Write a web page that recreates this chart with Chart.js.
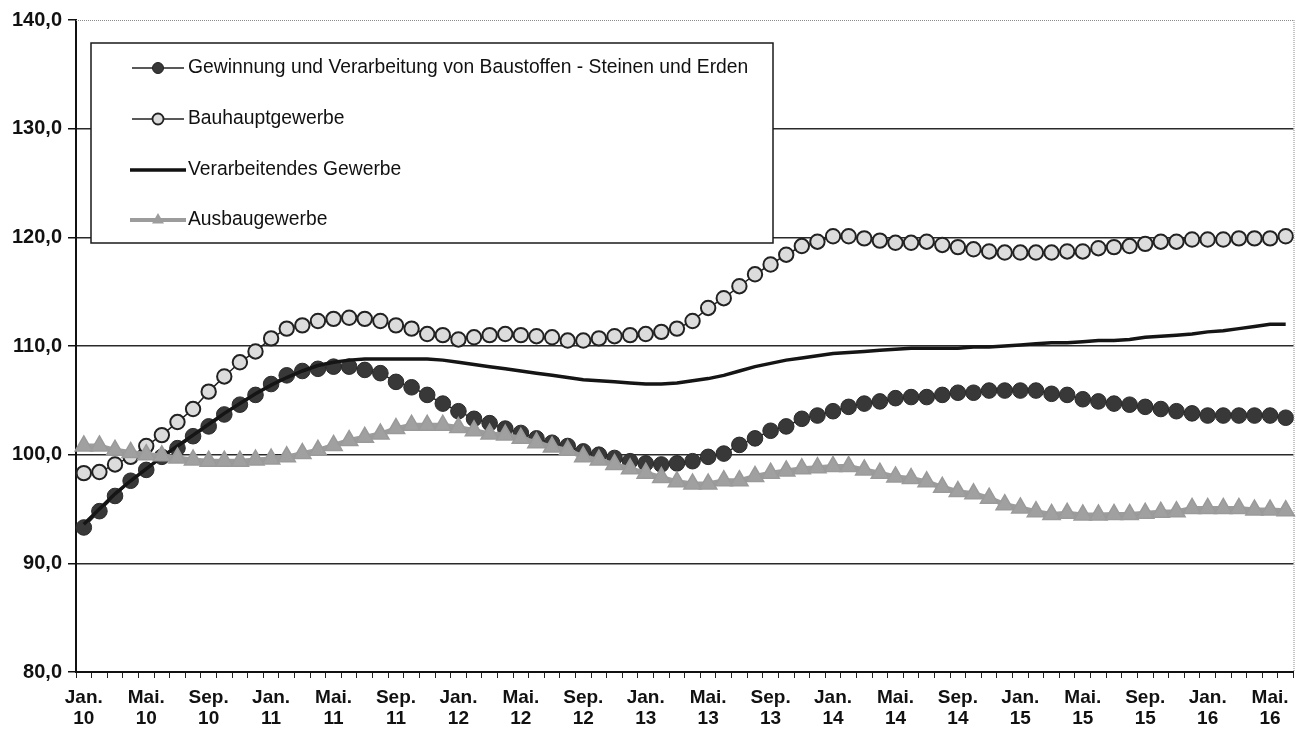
<!DOCTYPE html>
<html>
<head>
<meta charset="utf-8">
<script src="https://cdn.jsdelivr.net/npm/chart.js@4.4.1/dist/chart.umd.min.js"></script>
<style>
  html, body { margin: 0; padding: 0; background: #fff; }
  #wrap { width: 1305px; height: 734px; }
</style>
</head>
<body>
<div id="wrap"><canvas id="chart" width="1305" height="734"></canvas></div>
<script>
// month names / years used for the category axis (Jan. 10 .. Jun. 16)
var monthNames = ['Jan.', 'Feb.', 'Mär.', 'Apr.', 'Mai.', 'Jun.', 'Jul.', 'Aug.', 'Sep.', 'Okt.', 'Nov.', 'Dez.'];
var years = ['10', '11', '12', '13', '14', '15', '16'];
var lastMonthOfLastYear = 6;

var seriesNames = [
    'Gewinnung und Verarbeitung von Baustoffen - Steinen und Erden',
    'Bauhauptgewerbe',
    'Verarbeitendes Gewerbe',
    'Ausbaugewerbe'
];

var gewinnung = [
    93.3, 94.8, 96.2, 97.6, 98.6, 99.8, 100.6, 101.7, 102.6, 103.7, 104.6, 105.5,
    106.5, 107.3, 107.7, 107.9, 108.1, 108.1, 107.8, 107.5, 106.7, 106.2, 105.5, 104.7,
    104.0, 103.3, 102.9, 102.4, 102.0, 101.5, 101.1, 100.8, 100.3, 100.0, 99.7, 99.4,
    99.2, 99.1, 99.2, 99.4, 99.8, 100.1, 100.9, 101.5, 102.2, 102.6, 103.3, 103.6,
    104.0, 104.4, 104.7, 104.9, 105.2, 105.3, 105.3, 105.5, 105.7, 105.7, 105.9, 105.9,
    105.9, 105.9, 105.6, 105.5, 105.1, 104.9, 104.7, 104.6, 104.4, 104.2, 104.0, 103.8,
    103.6, 103.6, 103.6, 103.6, 103.6, 103.4
];
var bauhaupt = [
    98.3, 98.4, 99.1, 99.8, 100.8, 101.8, 103.0, 104.2, 105.8, 107.2, 108.5, 109.5,
    110.7, 111.6, 111.9, 112.3, 112.5, 112.6, 112.5, 112.3, 111.9, 111.6, 111.1, 111.0,
    110.6, 110.8, 111.0, 111.1, 111.0, 110.9, 110.8, 110.5, 110.5, 110.7, 110.9, 111.0,
    111.1, 111.3, 111.6, 112.3, 113.5, 114.4, 115.5, 116.6, 117.5, 118.4, 119.2, 119.6,
    120.1, 120.1, 119.9, 119.7, 119.5, 119.5, 119.6, 119.3, 119.1, 118.9, 118.7, 118.6,
    118.6, 118.6, 118.6, 118.7, 118.7, 119.0, 119.1, 119.2, 119.4, 119.6, 119.6, 119.8,
    119.8, 119.8, 119.9, 119.9, 119.9, 120.1
];
var verarbeitend = [
    93.6, 95.0, 96.4, 97.6, 98.7, 99.8, 100.8, 101.8, 102.8, 103.8, 104.7, 105.6,
    106.4, 107.1, 107.7, 108.2, 108.5, 108.7, 108.8, 108.8, 108.8, 108.8, 108.8, 108.7,
    108.5, 108.3, 108.1, 107.9, 107.7, 107.5, 107.3, 107.1, 106.9, 106.8, 106.7, 106.6,
    106.5, 106.5, 106.6, 106.8, 107.0, 107.3, 107.7, 108.1, 108.4, 108.7, 108.9, 109.1,
    109.3, 109.4, 109.5, 109.6, 109.7, 109.8, 109.8, 109.8, 109.8, 109.9, 109.9, 110.0,
    110.1, 110.2, 110.3, 110.3, 110.4, 110.5, 110.5, 110.6, 110.8, 110.9, 111.0, 111.1,
    111.3, 111.4, 111.6, 111.8, 112.0, 112.0
];
var ausbau = [
    100.8, 100.8, 100.4, 100.2, 100.0, 99.9, 99.7, 99.5, 99.4, 99.4, 99.4, 99.5,
    99.6, 99.8, 100.1, 100.4, 100.85, 101.3, 101.6, 101.9, 102.4, 102.7, 102.7, 102.7,
    102.5, 102.2, 101.9, 101.8, 101.5, 101.1, 100.7, 100.4, 99.8, 99.5, 99.1, 98.7,
    98.3, 97.9, 97.5, 97.3, 97.3, 97.6, 97.6, 98.0, 98.3, 98.5, 98.7, 98.8,
    98.9, 98.9, 98.6, 98.3, 97.95, 97.8, 97.5, 97.0, 96.6, 96.4, 96.0, 95.4,
    95.1, 94.75, 94.5, 94.6, 94.45, 94.45, 94.5, 94.5, 94.6, 94.7, 94.75, 95.05,
    95.05, 95.05, 95.05, 94.9, 94.9, 94.85
];

// build category list
var categories = [];
years.forEach(function (yr, yi) {
    var lastM = (yi === years.length - 1) ? lastMonthOfLastYear : 12;
    for (var m = 0; m < lastM; m++) {
        categories.push([monthNames[m], yr]);
    }
});

// legend box drawn inside the plot, like the original
var legendBox = {
    id: 'legendBox',
    afterDraw: function (chart) {
        var ctx = chart.ctx;
        var area = chart.chartArea;
        ctx.save();

        // dotted frame on top and right
        ctx.strokeStyle = '#8a8a8a';
        ctx.lineWidth = 1;
        ctx.setLineDash([1, 1]);
        ctx.beginPath();
        ctx.moveTo(area.left, area.top + 0.5);
        ctx.lineTo(area.right, area.top + 0.5);
        ctx.moveTo(area.right + 0.5, area.top);
        ctx.lineTo(area.right + 0.5, area.bottom);
        ctx.stroke();
        ctx.setLineDash([]);

        var bx = 91, by = 43, bw = 682, bh = 200;
        ctx.fillStyle = '#fff';
        ctx.fillRect(bx, by, bw, bh);
        ctx.strokeStyle = '#1a1a1a';
        ctx.lineWidth = 1.5;
        ctx.strokeRect(bx, by, bw, bh);

        var rows = [68, 119, 170, 220];
        var x0 = 132, x1 = 184, xm = 158;
        ctx.textBaseline = 'middle';
        ctx.font = '19.3px "Liberation Sans", Arial, sans-serif';

        rows.forEach(function (y, i) {
            ctx.beginPath();
            if (i === 0 || i === 1) {
                ctx.strokeStyle = '#222';
                ctx.lineWidth = 1.5;
                ctx.moveTo(x0, y); ctx.lineTo(x1, y); ctx.stroke();
                ctx.beginPath();
                ctx.arc(xm, y, 5.5, 0, Math.PI * 2);
                ctx.fillStyle = i === 0 ? '#383838' : '#dcdcdc';
                ctx.fill();
                ctx.lineWidth = i === 0 ? 1 : 1.8;
                ctx.strokeStyle = '#222';
                ctx.stroke();
            } else if (i === 2) {
                ctx.strokeStyle = '#111';
                ctx.lineWidth = 3.5;
                ctx.moveTo(x0 - 2, y); ctx.lineTo(x1 + 2, y); ctx.stroke();
            } else {
                ctx.strokeStyle = '#9c9c9c';
                ctx.lineWidth = 4;
                ctx.moveTo(x0 - 2, y); ctx.lineTo(x1 + 2, y); ctx.stroke();
                ctx.beginPath();
                ctx.moveTo(xm, y - 7);
                ctx.lineTo(xm + 6, y + 3.5);
                ctx.lineTo(xm - 6, y + 3.5);
                ctx.closePath();
                ctx.fillStyle = '#9c9c9c';
                ctx.fill();
            }
            ctx.fillStyle = '#111';
            ctx.fillText(seriesNames[i], 188, y);
        });
        ctx.restore();
    }
};

new Chart(document.getElementById('chart'), {
    type: 'line',
    data: {
        labels: categories,
        datasets: [{
            label: seriesNames[0],
            data: gewinnung,
            order: 4,
            borderColor: '#222',
            borderWidth: 1.5,
            pointRadius: 7.8,
            pointBackgroundColor: '#383838',
            pointBorderColor: '#2a2a2a',
            pointBorderWidth: 1
        }, {
            label: seriesNames[1],
            data: bauhaupt,
            order: 3,
            borderColor: '#222',
            borderWidth: 1.5,
            pointRadius: 7.2,
            pointBackgroundColor: '#dcdcdc',
            pointBorderColor: '#222',
            pointBorderWidth: 2
        }, {
            label: seriesNames[2],
            data: verarbeitend,
            order: 2,
            borderColor: '#151515',
            borderWidth: 3.5,
            pointRadius: 0
        }, {
            label: seriesNames[3],
            data: ausbau,
            order: 1,
            borderColor: '#9c9c9c',
            borderWidth: 5,
            pointStyle: 'triangle',
            pointRadius: 10,
            pointBackgroundColor: '#a0a0a0',
            pointBorderColor: '#9a9a9a',
            pointBorderWidth: 1.5
        }]
    },
    options: {
        responsive: false,
        animation: false,
        layout: {padding: {top: 20, right: 10, left: 0, bottom: 0}},
        plugins: {
            legend: {display: false},
            tooltip: {enabled: false}
        },
        scales: {
            x: {
                type: 'category',
                offset: true,
                grid: {
                    offset: true,
                    drawOnChartArea: false,
                    drawTicks: true,
                    tickLength: 6,
                    color: '#222',
                    lineWidth: 1
                },
                border: {display: true, color: '#111', width: 2},
                ticks: {
                    autoSkip: false,
                    maxRotation: 0,
                    minRotation: 0,
                    padding: 9,
                    color: '#111',
                    font: {family: '"Liberation Sans", Arial, sans-serif', size: 19, weight: 'bold', lineHeight: 1.1},
                    callback: function (val, index) {
                        return index % 4 === 0 ? categories[index] : '';
                    }
                },
                afterFit: function (scale) {
                    scale.height = 62;
                    scale.paddingLeft = 0;
                    scale.paddingRight = 0;
                }
            },
            y: {
                min: 80,
                max: 140,
                grid: {
                    color: function (c) {
                        return c.tick && c.tick.value === 140 ? 'rgba(0,0,0,0)' : '#2a2a2a';
                    },
                    tickColor: '#111',
                    lineWidth: 1.5,
                    tickLength: 8
                },
                border: {display: true, color: '#111', width: 2},
                ticks: {
                    stepSize: 10,
                    padding: 6,
                    color: '#111',
                    font: {family: '"Liberation Sans", Arial, sans-serif', size: 20, weight: 'bold'},
                    callback: function (v) {
                        return v.toFixed(1).replace('.', ',');
                    }
                },
                afterFit: function (scale) {
                    scale.width = 76;
                }
            }
        }
    },
    plugins: [legendBox]
});
</script>
</body>
</html>
